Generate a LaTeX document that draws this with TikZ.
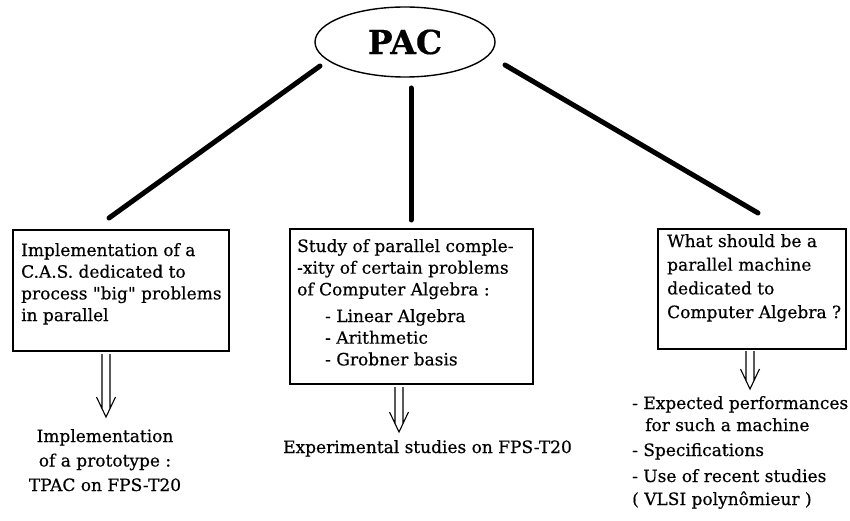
\documentclass[tikz,border=0pt]{standalone}
\usepackage{fontspec}
\setmainfont{DejaVu Serif}[FakeBold=0.5]
\newfontfamily\qfont{DejaVu Serif}[FakeBold=0.5]
\newcommand{\sq}{{\qfont"}}
\usetikzlibrary{calc,shapes.geometric}
\begin{document}
\begin{tikzpicture}[x=1pt,y=-1pt,
  txt/.style={font=\fontsize{17}{21.7}\selectfont, inner sep=0pt, anchor=base west},
  box/.style={draw, line width=1.8pt, rectangle, inner sep=0pt, anchor=north west},
  branch/.style={line width=5pt, line cap=round},
  dbl/.style={line width=1.1pt, to path={
     ($(\tikztostart)+(-4,0)$) -- ($(\tikztotarget)+(-4,-8.5)$)
     ($(\tikztostart)+(4,0)$) -- ($(\tikztotarget)+(4,-8.5)$)
     ($(\tikztotarget)+(-9.5,-20)$) -- (\tikztotarget) -- ($(\tikztotarget)+(9.5,-20)$)}}]
\useasboundingbox (0,0) rectangle (850,521);
% root
\node[draw, ellipse, line width=1.4pt, minimum width=180pt, minimum height=70pt, inner sep=0pt,
  font=\fontsize{33}{33}\selectfont\bfseries] (pac) at (405,42) {PAC};
% boxes
\node[box, minimum width=216pt, minimum height=121pt] (b1) at (12,229) {};
\node[box, minimum width=243pt, minimum height=155pt] (b2) at (289,228) {};
\node[box, minimum width=188pt, minimum height=120pt] (b3) at (657,228) {};
% branches
\coordinate (s1) at (320,66);
\coordinate (s2) at (411,88);
\coordinate (s3) at (505,65);
\coordinate (t1) at (109,218);
\coordinate (t2) at (411,220);
\coordinate (t3) at (758,213);
\draw[branch] (s1) -- (t1);
\draw[branch] (s2) -- (t2);
\draw[branch] (s3) -- (t3);
% box texts
\node[txt] (x1) at (21,256) {\parbox[t]{210pt}{\raggedright Implementation of a\\C.A.S. dedicated to\\process \sq big\sq{} problems\\in parallel}};
\node[txt] (x2) at (297,252) {\parbox[t]{240pt}{\raggedright Study of parallel comple-\\-xity of certain problems\\of Computer Algebra :}};
\node[txt] (x2b) at (325,322) {\parbox[t]{200pt}{\raggedright - Linear Algebra\\- Arithmetic\\- Grobner basis}};
\node[txt] (x3) at (667,247) {\parbox[t]{190pt}{\raggedright\baselineskip=23.7pt What should be a\\parallel machine\\dedicated to\\Computer Algebra ?}};
% results
\node[txt, anchor=base] (r1) at (105,442) {\parbox[t]{200pt}{\centering\baselineskip=24.5pt Implementation\\of a prototype :\\TPAC on FPS-T20}};
\node[txt] (r2) at (283,453) {Experimental studies on FPS-T20};
\node[txt] (r3) at (632,409) {\parbox[t]{230pt}{\raggedright - Expected performances\\[0.3pt]\hspace*{13pt}for such a machine\\[3.3pt]- Specifications\\[4.3pt]- Use of recent studies\\[1.3pt]( VLSI polynômieur )}};
% arrows
\coordinate (a1s) at (106,354);
\coordinate (a1e) at (106,417);
\coordinate (a2s) at (399,387);
\coordinate (a2e) at (399,432);
\coordinate (a3s) at (750,351);
\coordinate (a3e) at (750,389);
\draw[dbl] (a1s) to (a1e);
\draw[dbl] (a2s) to (a2e);
\draw[dbl] (a3s) to (a3e);
\end{tikzpicture}
\end{document}
